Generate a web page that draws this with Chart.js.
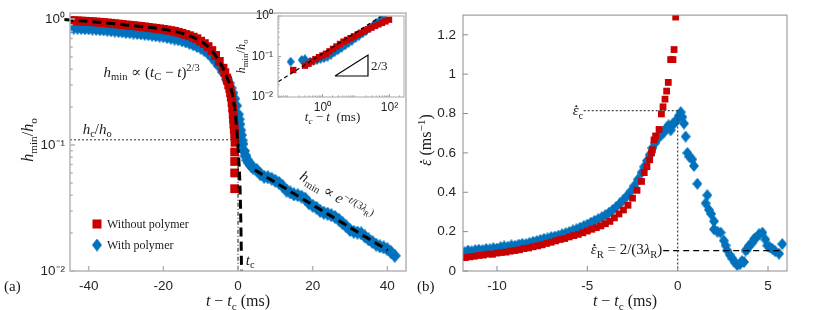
<!DOCTYPE html>
<html lang="en">
<head>
<meta charset="UTF-8">
<title>Filament thinning</title>
<script src="https://cdn.jsdelivr.net/npm/chart.js@4.4.1/dist/chart.umd.min.js"></script>
<style>
  body { margin: 0; background: #fff; }
  #wrap { position: relative; width: 822px; height: 310px; overflow: hidden; }
  canvas { position: absolute; top: 0; }
</style>
</head>
<body>
<div id="wrap">
  <canvas id="chartA" width="420" height="310" style="left:0"></canvas>
  <canvas id="chartB" width="412" height="310" style="left:410px"></canvas>
  <canvas id="inset" width="185" height="130" style="left:230px"></canvas>
</div>
<script>
// ---- panel (a): h_min/h_o against t - t_c ----
const tRedA = [-45,-44,-43,-42,-41,-40,-39,-38,-37,-36,-35,-34,-33,-32,-31,-30,-29,-28,-27,-26,-25,-24,-23,-22,-21,-20,-19,-18,-17,-16,-15,-14,-13,-12,-11,-10,-9,-8,-7,-6,-5,-4,
  -3.5,-3,-2.8,-2.5,-2.2,-2,-1.8,-1.6,-1.45,-1.3,-1.2,-1.1,-1,-0.9,-0.8,-0.9,-0.9,-0.9,-0.9];
const hRedA = [0.973,0.970,0.967,0.963,0.960,0.956,0.952,0.947,0.942,0.937,0.931,0.925,0.918,0.912,0.905,0.898,0.892,0.886,0.879,0.873,0.866,0.858,0.851,0.843,0.836,0.828,0.819,0.809,0.799,0.785,0.770,0.754,0.737,0.718,0.698,0.667,0.638,0.604,0.562,0.514,0.461,0.407,
  0.375,0.340,0.325,0.300,0.280,0.260,0.240,0.217,0.196,0.175,0.160,0.146,0.133,0.122,0.105,0.088,0.074,0.060,0.045];
const tBlueA = [-45,-44,-43,-42,-41,-40,-39,-38,-37,-36,-35,-34,-33,-32,-31,-30,-29,-28,-27,-26,-25,-24,-23,-22,-21,-20,-19,-18,-17,-16,-15,-14,-13,-12,-11,-10,-9,-8,-7,-6,-5,-4,
  -3,-2.5,-2,-1.5,-1,-0.5,0,0.2,0.4,0.6,0.8,1,1.2,1.6,2,2.5,3,3.5,
  4,5,6,7,8,9,10,11,12,13,14,15,16,17,18,19,20,21,22,23,24,25,26,27,28,29,30,31,32,33,34,35,36,37,38,39,40,41,42];
const hBlueA = [0.858,0.855,0.852,0.849,0.846,0.843,0.839,0.835,0.830,0.826,0.821,0.815,0.809,0.803,0.797,0.791,0.786,0.780,0.775,0.769,0.763,0.757,0.750,0.743,0.737,0.730,0.721,0.711,0.700,0.690,0.679,0.663,0.647,0.630,0.612,0.593,0.566,0.538,0.500,0.461,0.422,0.379,
  0.334,0.311,0.284,0.259,0.233,0.205,0.175,0.160,0.146,0.131,0.120,0.109,0.102,0.0898,0.0821,0.0757,0.0717,0.0685,
  0.066,0.0635,0.0585,0.0560,0.0555,0.0540,0.0520,0.0500,0.0470,0.0435,0.0420,0.0405,0.0400,0.0390,0.0375,0.0345,0.0330,0.0318,0.0300,0.0290,0.0285,0.0277,0.0268,0.0256,0.0240,0.0226,0.0212,0.0205,0.0202,0.0199,0.0188,0.0178,0.0170,0.0162,0.0157,0.0154,0.0149,0.0141,0.0132];
const tPowFit = [-46.5,-40,-30,-20,-15,-10,-7,-5,-4,-3,-2,-1.2,-0.5,0.1,0.5,0.75,0.95];
const hPowFit = [0.99,0.956,0.898,0.828,0.770,0.667,0.562,0.461,0.407,0.345,0.290,0.225,0.151,0.088,0.050,0.025,0.010];
const tExpFit = [4.5, 40.1];
const hExpFit = [0.0634, 0.0146];
const tHc = [-45, 0], hHc = [0.11, 0.11];
const tTc = [0, 0], hTc = [0.11, 0.01];
const xTicksA = [-40, -20, 0, 20, 40];
const yTicksA = [0.01, 0.1, 1];

// ---- inset: h_min/h_o against t_c - t ----
const xRedIn = [0.134,0.300,0.382,0.486,0.618,0.787,1.0,1.27,1.62,2.06,2.62,3.33,4.24,5.38,6.85,8.71,11.1,14.1,17.9,22.8,29.0,36.9,46.9,59.7,76.0,96.6];
const yRedIn = [0.0464,0.0593,0.0661,0.0753,0.0863,0.0964,0.106,0.117,0.134,0.154,0.177,0.204,0.233,0.258,0.284,0.315,0.348,0.385,0.424,0.470,0.518,0.570,0.621,0.676,0.736,0.811];
const xBlueIn = [0.112,0.239,0.300,0.424,0.539,0.685,0.871,1.11,1.41,1.79,2.28,2.90,3.69,4.70,5.97,7.60,9.66,12.3,15.6,19.9,25.3,32.2,40.9,52.0,66.2];
const yBlueIn = [0.0744,0.082,0.0853,0.0744,0.0784,0.0824,0.0873,0.0919,0.0984,0.111,0.127,0.144,0.163,0.187,0.216,0.247,0.285,0.326,0.370,0.429,0.497,0.575,0.679,0.782,0.904];
const xFitIn = [0.048, 58.5], yFitIn = [0.0239, 1.0];
const xTri = [2.36, 22.8, 22.8, 2.36], yTri = [0.033, 0.033, 0.109, 0.033];
const xTicksIn = [1, 100];
const yTicksIn = [0.01, 0.1, 1];

// ---- panel (b): strain rate against t - t_c ----
const tRedB = [-11.75,-11.5,-11.25,-11,-10.75,-10.5,-10.25,-10,-9.75,-9.5,-9.25,-9,-8.75,-8.5,-8.25,-8,-7.75,-7.5,-7.25,-7,-6.75,-6.5,-6.25,-6,-5.75,-5.5,-5.25,-5,-4.75,-4.5,-4.25,-4,-3.75,-3.5,-3.25,-3,-2.75,-2.5,-2.25,-2,
  -1.85,-1.7,-1.55,-1.45,-1.40,-1.31,-1.22,-1.03,-0.90,-0.81,-0.70,-0.61,-0.52,-0.39,-0.26,-0.20,-0.11];
const eRedB = [0.068,0.072,0.075,0.079,0.081,0.086,0.085,0.091,0.094,0.096,0.101,0.104,0.108,0.114,0.117,0.123,0.128,0.133,0.140,0.146,0.153,0.160,0.165,0.173,0.180,0.186,0.194,0.203,0.212,0.220,0.229,0.240,0.252,0.270,0.290,0.310,0.334,0.370,0.410,0.455,
  0.500,0.530,0.565,0.600,0.616,0.666,0.686,0.719,0.798,0.834,0.873,0.914,0.958,1.074,1.074,1.125,1.29];
const tBlueB = [-11.8,-11.6,-11.4,-11.2,-11,-10.8,-10.6,-10.4,-10.2,-10,-9.8,-9.6,-9.4,-9.2,-9,-8.8,-8.6,-8.4,-8.2,-8,-7.8,-7.6,-7.4,-7.2,-7,-6.8,-6.6,-6.4,-6.2,-6,-5.8,-5.6,-5.4,-5.2,-5,-4.8,-4.6,-4.4,-4.2,-4,-3.8,-3.6,-3.4,-3.2,-3,-2.8,-2.6,-2.4,-2.2,-2,
  -1.85,-1.7,-1.55,-1.4,-1.25,-1.1,-0.95,
  -0.8,-0.65,-0.57,-0.5,-0.39,-0.3,-0.2,-0.1,-0.02,0.08,0.17,0.26,0.35,0.44,0.54,0.65,0.81,0.90,1.09,1.55,1.64,1.73,1.85,2.01,2.01,2.2,2.38,2.56,2.65,2.75,2.9,3.03,3.15,3.3,3.45,3.55,3.67,3.76,3.85,3.95,4.1,4.22,4.35,4.5,4.69,4.85,4.96,5.1,5.24,5.4,5.61,5.79];
const eBlueB = [0.095,0.104,0.100,0.106,0.108,0.106,0.112,0.110,0.116,0.114,0.121,0.125,0.123,0.130,0.128,0.134,0.138,0.136,0.143,0.148,0.152,0.158,0.163,0.166,0.172,0.175,0.180,0.186,0.192,0.198,0.206,0.212,0.220,0.228,0.236,0.246,0.255,0.263,0.273,0.284,0.296,0.310,0.326,0.343,0.362,0.382,0.405,0.433,0.465,0.500,
  0.530,0.560,0.590,0.625,0.650,0.672,0.690,
  0.700,0.720,0.732,0.740,0.715,0.745,0.749,0.760,0.773,0.790,0.807,0.782,0.749,0.683,0.600,0.580,0.567,0.534,0.443,0.344,0.385,0.311,0.290,0.253,0.212,0.200,0.195,0.154,0.130,0.104,0.080,0.063,0.045,0.030,0.035,0.050,0.046,0.104,0.110,0.129,0.140,0.162,0.170,0.187,0.195,0.160,0.129,0.120,0.113,0.100,0.088,0.137];
const tEpsC = [-5.2, 0], eEpsC = [0.815, 0.815];
const tEpsCv = [0, 0], eEpsCv = [0.815, 0];
const tEpsR = [-0.8, 5.85], eEpsR = [0.104, 0.104];
const xTicksB = [-10, -5, 0, 5];
const yTicksB = [0, 0.2, 0.4, 0.6, 0.8, 1, 1.2];

const SERIF = '"Liberation Serif", "DejaVu Serif", serif';
const SANS = '"Liberation Sans", Arial, sans-serif';
const INK = '#1a1a1a';
const RED = '#c80000', BLUE = '#0072bd';

function diamond(w, h, color) {
  const c = document.createElement('canvas');
  c.width = w; c.height = h;
  const g = c.getContext('2d');
  g.fillStyle = color;
  g.beginPath();
  g.moveTo(w / 2, 0); g.lineTo(w, h / 2); g.lineTo(w / 2, h); g.lineTo(0, h / 2);
  g.closePath(); g.fill();
  return c;
}

const pts = (xs, ys) => xs.map((x, i) => ({x, y: ys[i]}));

// runs: [text, flags]  i=italic b=sub p=sup q=sub inside sup d=dot above
function rich(ctx, runs, x, y, size, align, rot) {
  const parts = runs.map(([t, f]) => {
    f = f || '';
    const s = /q/.test(f) ? size * 0.5 : /[bp]/.test(f) ? size * 0.7 : size;
    const font = (/i/.test(f) ? 'italic ' : '') + s.toFixed(1) + 'px ' + SERIF;
    ctx.font = font;
    const dy = /q/.test(f) ? -size * 0.2 : /b/.test(f) ? size * 0.22 : /p/.test(f) ? -size * 0.4 : 0;
    return {t, f, font, dy, w: ctx.measureText(t).width};
  });
  const total = parts.reduce((n, p) => n + p.w, 0);
  let cx = align === 'center' ? -total / 2 : align === 'right' ? -total : 0;
  ctx.save();
  ctx.translate(x, y);
  if (rot) ctx.rotate(rot);
  ctx.textAlign = 'left';
  ctx.textBaseline = 'alphabetic';
  parts.forEach(p => {
    ctx.font = p.font;
    ctx.fillText(p.t, cx, p.dy);
    if (/d/.test(p.f)) {
      ctx.beginPath();
      ctx.arc(cx + p.w * 0.62, p.dy - size * 0.62, size * 0.07, 0, Math.PI * 2);
      ctx.fill();
    }
    cx += p.w;
  });
  ctx.restore();
}

// box round the axes, with ticks pointing inwards
const boxTicks = {
  id: 'boxTicks',
  beforeDatasetsDraw(chart, args, o) {
    if (!o.fill) return;
    const a = chart.chartArea;
    chart.ctx.fillStyle = o.fill;
    chart.ctx.fillRect(a.left, a.top, a.right - a.left, a.bottom - a.top);
  },
  afterDatasetsDraw(chart, args, o) {
    const ctx = chart.ctx, a = chart.chartArea;
    ctx.save();
    ctx.strokeStyle = o.color;
    ctx.lineWidth = o.width;
    ctx.beginPath();
    Object.values(chart.scales).forEach(s => {
      const marks = s.ticks.map(t => [t.value, o.len]);
      if (s.type === 'logarithmic') {
        for (let e = Math.floor(Math.log10(s.min)); e <= Math.ceil(Math.log10(s.max)); e++) {
          for (let m = 2; m <= 9; m++) {
            const v = m * Math.pow(10, e);
            if (v > s.min && v < s.max) marks.push([v, o.len * 0.55]);
          }
        }
      }
      marks.forEach(([v, len]) => {
        const p = s.getPixelForValue(v);
        if (s.isHorizontal()) { ctx.moveTo(p, a.bottom); ctx.lineTo(p, a.bottom - len); }
        else { ctx.moveTo(a.left, p); ctx.lineTo(a.left + len, p); }
      });
    });
    ctx.stroke();
    ctx.strokeRect(a.left, a.top, a.right - a.left, a.bottom - a.top);
    ctx.restore();
  }
};

// math labels and legend
const notes = {
  id: 'notes',
  afterDraw(chart, args, o) {
    const ctx = chart.ctx;
    ctx.save();
    ctx.fillStyle = INK;
    (o.items || []).forEach(it => {
      const x = it.px ? it.px[0] : chart.scales.x.getPixelForValue(it.at[0]);
      const y = it.px ? it.px[1] : chart.scales.y.getPixelForValue(it.at[1]);
      rich(ctx, it.runs, x, y, it.size, it.align || 'left', it.rot || 0);
    });
    if (o.legend) {
      const L = o.legend;
      chart.data.datasets.filter(d => d.label).forEach((d, i) => {
        const y = L.y + i * L.dy;
        if (d.legendStyle) {
          ctx.drawImage(d.legendStyle, L.x - d.legendStyle.width / 2, y - d.legendStyle.height / 2);
        } else {
          ctx.fillStyle = d.backgroundColor;
          ctx.fillRect(L.x - 4.5, y - 4.5, 9, 9);
        }
        ctx.fillStyle = INK;
        ctx.font = L.size + 'px ' + SERIF;
        ctx.textBaseline = 'middle';
        ctx.textAlign = 'left';
        ctx.fillText(d.label, L.tx, y + 1);
      });
    }
    ctx.restore();
  }
};

const SUP = {'-': '\u207B', '0': '\u2070', '1': '\u00B9', '2': '\u00B2', '3': '\u00B3'};
const pow10 = v => '10' + String(Math.round(Math.log10(v))).split('').map(c => SUP[c]).join('');

function axis(type, min, max, ticks, size, pad, fontSize, fmt) {
  return {
    type, min, max,
    afterBuildTicks: s => { s.ticks = ticks.map(v => ({value: v})); },
    afterFit: s => { if (s.isHorizontal()) s.height = size; else s.width = size; },
    grid: {display: false, drawTicks: false},
    border: {display: false},
    ticks: {autoSkip: false, maxRotation: 0, padding: pad, color: '#262626',
            font: {family: SANS, size: fontSize}, callback: fmt || (v => String(v))}
  };
}

function line(xs, ys, color, width, dash, extra) {
  return Object.assign({data: pts(xs, ys), showLine: true, borderColor: color, borderWidth: width,
    borderDash: dash, pointRadius: 0, fill: false}, extra || {});
}

function marks(label, xs, ys, color, style, radius, legendStyle) {
  return {label, data: pts(xs, ys), backgroundColor: color, pointStyle: style,
    pointRadius: radius, borderWidth: 0, showLine: false, legendStyle};
}

function opts(padding, scales, frame, noteCfg) {
  return {
    responsive: false, animation: false, devicePixelRatio: 1, events: [],
    layout: {padding},
    scales,
    plugins: {legend: {display: false}, tooltip: {enabled: false}, boxTicks: frame, notes: noteCfg}
  };
}

const hRatio = [['h', 'i'], ['min', 'b'], ['/', ''], ['h', 'i'], ['o', 'b']];
const tAxis = [['t', 'i'], [' \u2212 ', ''], ['t', 'i'], ['c', 'b'], [' (ms)', '']];

new Chart(document.getElementById('chartA'), {
  type: 'scatter',
  data: {datasets: [
    line(tPowFit, hPowFit, '#000', 3, [9, 5], {cubicInterpolationMode: 'monotone', clip: {left: 6, top: 2, right: 0, bottom: 0}}),
    line(tExpFit, hExpFit, '#000', 3, [9, 5]),
    line(tHc, hHc, '#333', 1, [2, 2]),
    line(tTc, hTc, '#111', 1, [4, 2, 1, 2]),
    marks('Without polymer', tRedA, hRedA, RED, 'rect', 6.2),
    marks('With polymer', tBlueA, hBlueA, BLUE, diamond(12, 14, BLUE), 6, diamond(10, 13, BLUE))
  ]},
  options: opts({left: 0, right: 14, top: 9, bottom: 0}, {
    x: axis('linear', -45, 45, xTicksA, 39, 7, 13.5),
    y: axis('logarithmic', 0.01, 1.114, yTicksA, 70, 5, 13.5, pow10)
  }, {color: '#b5b5b5', width: 1.5, len: 5}, {
    items: [
      {at: [-36, 0.346], size: 15, runs: [['h', 'i'], ['min', 'b'], [' \u221D ', ''], ['(', ''], ['t', 'i'], ['C', 'b'], [' \u2212 ', ''], ['t', 'i'], [')', ''], ['2/3', 'p']]},
      {at: [-41.6, 0.1225], size: 15, runs: [['h', 'i'], ['c', 'b'], ['/', ''], ['h', 'i'], ['o', 'b']]},
      {at: [2.1, 0.0112], size: 15, runs: [['t', 'i'], ['c', 'b']]},
      {at: [16.3, 0.054], size: 15, rot: 0.55, runs: [['h', 'i'], ['min', 'b'], [' \u221D ', ''], ['e', 'i'], ['\u2212', 'p'], ['t', 'pi'], ['/(3', 'p'], ['\u03BB', 'pi'], ['R', 'q'], [')', 'p']]},
      {px: [238, 306], size: 16, align: 'center', runs: tAxis},
      {px: [33, 140], size: 16, align: 'center', rot: -Math.PI / 2, runs: hRatio},
      {px: [4, 291], size: 15, runs: [['(a)', '']]}
    ],
    legend: {x: 97, y: 224, dy: 21, tx: 107, size: 12}
  }),
  plugins: [boxTicks, notes]
});

new Chart(document.getElementById('inset'), {
  type: 'scatter',
  data: {datasets: [
    line(xFitIn, yFitIn, '#000', 1.2, [4, 3]),
    line(xTri, yTri, '#000', 1.2, []),
    marks('', xRedIn, yRedIn, RED, 'rect', 4.5),
    marks('', xBlueIn, yBlueIn, BLUE, diamond(8, 10, BLUE), 4.5)
  ]},
  options: opts({left: 0, right: 11, top: 16, bottom: 0}, {
    x: axis('logarithmic', 0.047, 271, xTicksIn, 33, 3, 12, pow10),
    y: axis('logarithmic', 0.01, 1, yTicksIn, 48, 5, 12, pow10)
  }, {color: '#a6a6a6', width: 1, len: 3, fill: '#fff'}, {
    items: [
      {px: [15, 56.5], size: 12.5, align: 'center', rot: -Math.PI / 2, runs: hRatio},
      {px: [102.5, 121], size: 13, align: 'center', runs: [['t', 'i'], ['c', 'bi'], [' \u2212 ', ''], ['t', 'i'], ['  (ms)', '']]},
      {at: [28, 0.0464], size: 13, runs: [['2/3', '']]}
    ]
  }),
  plugins: [boxTicks, notes]
});

new Chart(document.getElementById('chartB'), {
  type: 'scatter',
  data: {datasets: [
    line(tEpsC, eEpsC, '#444', 1.2, [2, 2]),
    line(tEpsCv, eEpsCv, '#444', 1.2, [2, 2]),
    line(tEpsR, eEpsR, '#000', 1.3, [6, 4]),
    marks('', tRedB, eRedB, RED, 'rect', 4.8),
    marks('', tBlueB, eBlueB, BLUE, diamond(10, 12, BLUE), 5.5)
  ]},
  options: opts({left: 0, right: 35, top: 9, bottom: 0}, {
    x: axis('linear', -11.88, 6.05, xTicksB, 39, 7, 13.5),
    y: axis('linear', 0, 1.3, yTicksB, 53, 7, 13.5)
  }, {color: '#8c8c8c', width: 1, len: 5}, {
    items: [
      {at: [-5.81, 0.79], size: 15, runs: [['\u03B5', 'id'], ['c', 'b']]},
      {at: [-0.85, 0.084], size: 15, align: 'right', runs: [['\u03B5', 'id'], ['R', 'b'], [' = 2/(3', ''], ['\u03BB', 'i'], ['R', 'b'], [')', '']]},
      {px: [215, 306], size: 16, align: 'center', runs: tAxis},
      {px: [21, 140], size: 16, align: 'center', rot: -Math.PI / 2, runs: [['\u03B5', 'id'], [' (ms', ''], ['\u22121', 'p'], [')', '']]},
      {px: [7, 291], size: 15, runs: [['(b)', '']]}
    ]
  }),
  plugins: [boxTicks, notes]
});
</script>
</body>
</html>
